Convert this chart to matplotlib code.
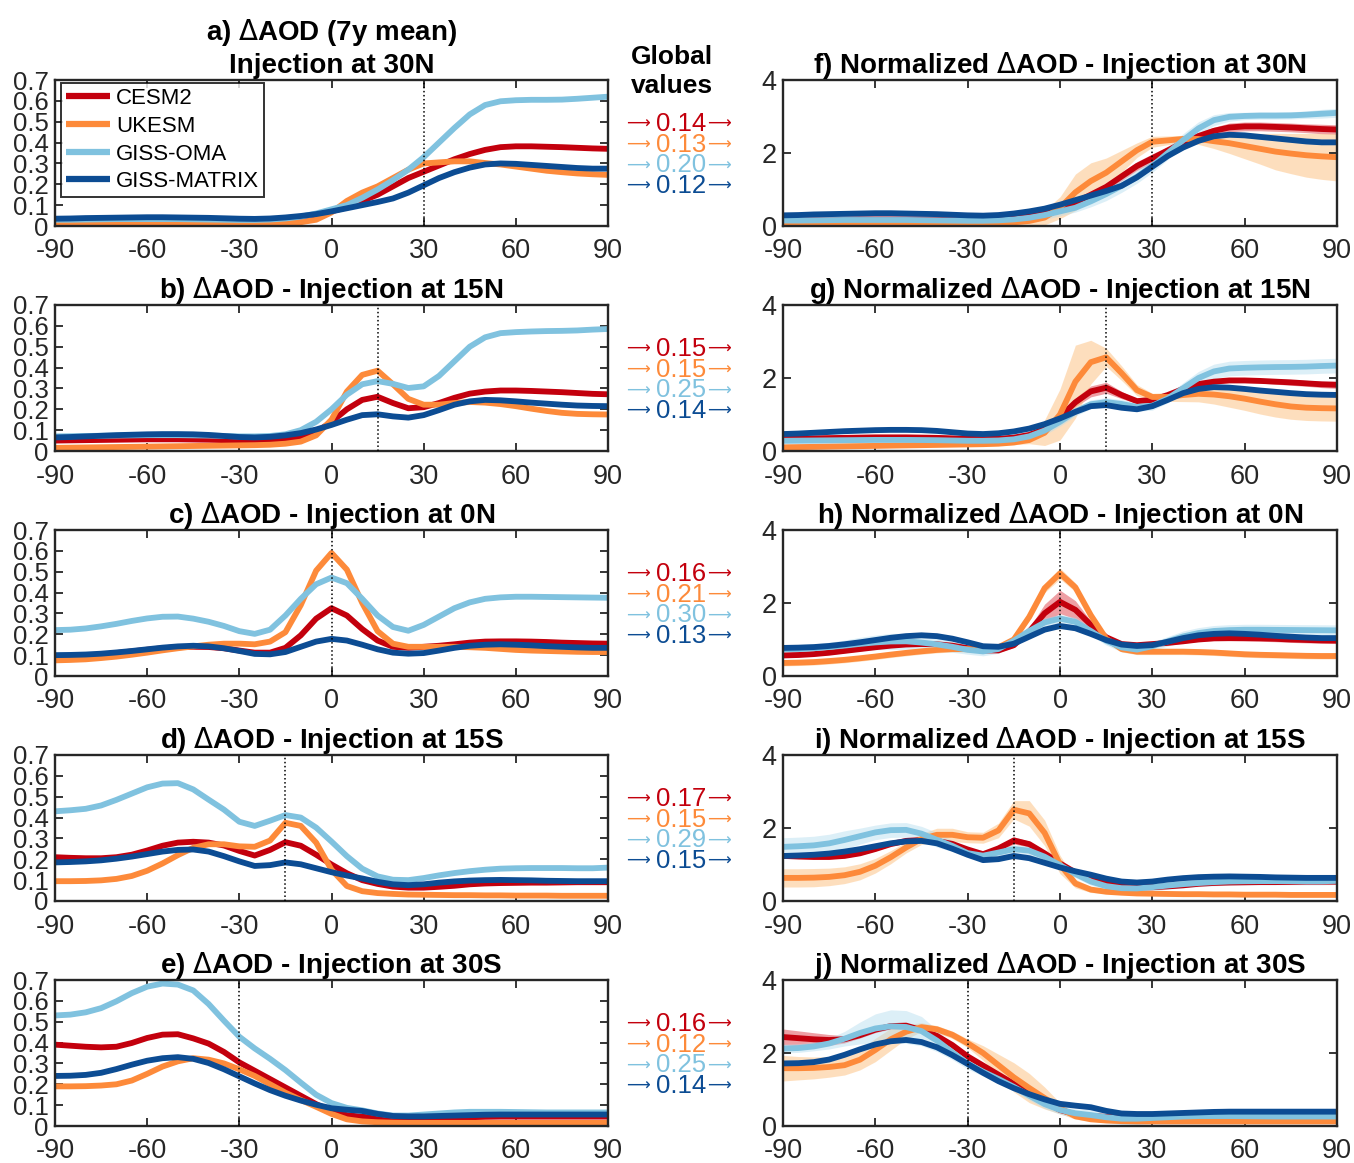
import numpy as np
import matplotlib
matplotlib.use('Agg')
import matplotlib.pyplot as plt

plt.rcParams['font.family'] = ['Liberation Sans', 'DejaVu Sans']
plt.rcParams['axes.unicode_minus'] = False

# latitude grid (5 deg)
lat = np.arange(-90, 91, 5)

models = ['CESM2', 'UKESM', 'GISS-OMA', 'GISS-MATRIX']
colors = ['#c3000d', '#fd8a3a', '#80c2df', '#0c4c93']
band_colors = ['#e0505a', '#fdbf7c', '#b3dcee', '#8fb4dc']
band_alpha = [0.55, 0.5, 0.45, 0.3]

inj_lat = [30, 15, 0, -15, -30]
left_titles = ['a) $\\Delta$AOD (7y mean)\nInjection at 30N',
               'b) $\\Delta$AOD - Injection at 15N',
               'c) $\\Delta$AOD - Injection at 0N',
               'd) $\\Delta$AOD - Injection at 15S',
               'e) $\\Delta$AOD - Injection at 30S']
right_titles = ['f) Normalized $\\Delta$AOD - Injection at 30N',
                'g) Normalized $\\Delta$AOD - Injection at 15N',
                'h) Normalized $\\Delta$AOD - Injection at 0N',
                'i) Normalized $\\Delta$AOD - Injection at 15S',
                'j) Normalized $\\Delta$AOD - Injection at 30S']

xticks = [-90, -60, -30, 0, 30, 60, 90]
yticks_aod = [0, 0.1, 0.2, 0.3, 0.4, 0.5, 0.6, 0.7]
yticks_norm = [0, 2, 4]

# global mean dAOD  (CESM2, UKESM, GISS-OMA, GISS-MATRIX)
global_30n = [0.14, 0.13, 0.20, 0.12]
global_15n = [0.15, 0.15, 0.25, 0.14]
global_0n = [0.16, 0.21, 0.30, 0.13]
global_15s = [0.17, 0.15, 0.29, 0.15]
global_30s = [0.16, 0.12, 0.25, 0.14]

# ---- dAOD, injection at 30N
cesm2_30n = [0.020, 0.020, 0.022, 0.022, 0.024, 0.025, 0.025, 0.025, 0.025,
             0.025, 0.024, 0.022, 0.020, 0.020, 0.022, 0.028, 0.038, 0.052,
             0.070, 0.090, 0.120, 0.150, 0.190, 0.230, 0.260, 0.290, 0.320,
             0.345, 0.365, 0.378, 0.382, 0.382, 0.380, 0.378, 0.375, 0.372, 0.370]
ukesm_30n = [0.010, 0.010, 0.010, 0.011, 0.012, 0.012, 0.012, 0.013, 0.013,
             0.013, 0.013, 0.012, 0.012, 0.012, 0.012, 0.013, 0.018, 0.030,
             0.065, 0.120, 0.160, 0.190, 0.230, 0.270, 0.300, 0.305, 0.310,
             0.310, 0.302, 0.295, 0.285, 0.275, 0.265, 0.258, 0.252, 0.248, 0.245]
oma_30n = [0.030, 0.030, 0.031, 0.032, 0.033, 0.033, 0.033, 0.033, 0.033,
           0.032, 0.031, 0.030, 0.029, 0.029, 0.031, 0.036, 0.045, 0.060,
           0.080, 0.100, 0.135, 0.175, 0.220, 0.270, 0.330, 0.400, 0.470,
           0.535, 0.580, 0.598, 0.603, 0.605, 0.605, 0.606, 0.610, 0.615, 0.620]
matrix_30n = [0.035, 0.036, 0.038, 0.039, 0.040, 0.041, 0.042, 0.042, 0.041,
              0.040, 0.039, 0.037, 0.035, 0.034, 0.036, 0.041, 0.048, 0.057,
              0.070, 0.085, 0.100, 0.115, 0.132, 0.160, 0.195, 0.230, 0.258,
              0.280, 0.295, 0.300, 0.298, 0.293, 0.288, 0.283, 0.278, 0.275, 0.275]

# ---- dAOD, injection at 15N
cesm2_15n = [0.050, 0.051, 0.052, 0.053, 0.054, 0.055, 0.056, 0.056, 0.056,
             0.055, 0.054, 0.052, 0.050, 0.049, 0.050, 0.055, 0.066, 0.090,
             0.140, 0.200, 0.245, 0.260, 0.230, 0.205, 0.210, 0.230, 0.255,
             0.275, 0.285, 0.290, 0.290, 0.288, 0.285, 0.282, 0.278, 0.274, 0.272]
ukesm_15n = [0.015, 0.016, 0.017, 0.018, 0.019, 0.020, 0.021, 0.022, 0.023,
             0.024, 0.025, 0.026, 0.027, 0.028, 0.030, 0.035, 0.045, 0.075,
             0.150, 0.285, 0.365, 0.385, 0.320, 0.250, 0.222, 0.222, 0.230,
             0.235, 0.232, 0.225, 0.215, 0.203, 0.192, 0.183, 0.178, 0.176, 0.175]
oma_15n = [0.070, 0.071, 0.072, 0.073, 0.074, 0.075, 0.076, 0.076, 0.076,
           0.075, 0.074, 0.072, 0.070, 0.070, 0.072, 0.080, 0.100, 0.140,
           0.200, 0.270, 0.320, 0.335, 0.322, 0.302, 0.310, 0.360, 0.430,
           0.500, 0.545, 0.565, 0.570, 0.573, 0.575, 0.576, 0.578, 0.582, 0.585]
matrix_15n = [0.065, 0.067, 0.070, 0.073, 0.076, 0.078, 0.080, 0.081, 0.081,
              0.080, 0.077, 0.072, 0.067, 0.065, 0.068, 0.075, 0.086, 0.103,
              0.125, 0.150, 0.172, 0.176, 0.166, 0.160, 0.172, 0.196, 0.222,
              0.238, 0.245, 0.243, 0.238, 0.232, 0.227, 0.222, 0.218, 0.216, 0.215]

# ---- dAOD, injection at 0N
cesm2_0n = [0.090, 0.092, 0.096, 0.102, 0.110, 0.118, 0.126, 0.133, 0.138,
            0.140, 0.139, 0.133, 0.122, 0.112, 0.112, 0.135, 0.195, 0.275,
            0.325, 0.290, 0.225, 0.170, 0.140, 0.135, 0.140, 0.145, 0.152,
            0.160, 0.165, 0.166, 0.166, 0.165, 0.163, 0.160, 0.158, 0.156, 0.155]
ukesm_0n = [0.075, 0.077, 0.080, 0.086, 0.093, 0.102, 0.112, 0.123, 0.133,
            0.142, 0.150, 0.155, 0.155, 0.152, 0.165, 0.210, 0.340, 0.505,
            0.590, 0.510, 0.350, 0.215, 0.155, 0.140, 0.140, 0.140, 0.140,
            0.138, 0.135, 0.130, 0.125, 0.122, 0.120, 0.118, 0.116, 0.115, 0.115]
oma_0n = [0.220, 0.222, 0.228, 0.238, 0.250, 0.264, 0.276, 0.284, 0.285,
          0.275, 0.260, 0.240, 0.215, 0.202, 0.222, 0.290, 0.370, 0.440,
          0.472, 0.445, 0.370, 0.290, 0.235, 0.217, 0.245, 0.285, 0.325,
          0.353, 0.370, 0.377, 0.380, 0.380, 0.379, 0.378, 0.377, 0.376, 0.375]
matrix_0n = [0.100, 0.101, 0.103, 0.107, 0.113, 0.120, 0.128, 0.136, 0.142,
             0.145, 0.142, 0.133, 0.120, 0.106, 0.104, 0.115, 0.140, 0.165,
             0.178, 0.170, 0.150, 0.128, 0.112, 0.107, 0.110, 0.122, 0.135,
             0.145, 0.150, 0.152, 0.150, 0.147, 0.143, 0.140, 0.137, 0.135, 0.135]

# ---- dAOD, injection at 15S
cesm2_15s = [0.210, 0.207, 0.205, 0.205, 0.210, 0.222, 0.242, 0.265, 0.280,
             0.284, 0.280, 0.266, 0.240, 0.218, 0.245, 0.282, 0.265, 0.222,
             0.175, 0.133, 0.100, 0.082, 0.069, 0.064, 0.064, 0.068, 0.073,
             0.080, 0.084, 0.086, 0.087, 0.088, 0.088, 0.089, 0.090, 0.090, 0.090]
ukesm_15s = [0.095, 0.095, 0.096, 0.099, 0.106, 0.120, 0.145, 0.180, 0.220,
             0.255, 0.272, 0.272, 0.262, 0.260, 0.290, 0.375, 0.360, 0.280,
             0.150, 0.072, 0.047, 0.038, 0.034, 0.031, 0.030, 0.029, 0.028,
             0.028, 0.027, 0.027, 0.026, 0.026, 0.026, 0.025, 0.025, 0.025, 0.025]
oma_15s = [0.430, 0.435, 0.442, 0.458, 0.485, 0.515, 0.545, 0.563, 0.565,
           0.535, 0.486, 0.438, 0.380, 0.360, 0.385, 0.412, 0.400, 0.352,
           0.285, 0.215, 0.155, 0.118, 0.102, 0.100, 0.110, 0.123, 0.134,
           0.143, 0.150, 0.155, 0.157, 0.158, 0.158, 0.158, 0.157, 0.157, 0.160]
matrix_15s = [0.185, 0.187, 0.190, 0.195, 0.203, 0.213, 0.225, 0.237, 0.245,
              0.247, 0.237, 0.215, 0.190, 0.168, 0.172, 0.185, 0.176, 0.157,
              0.138, 0.122, 0.108, 0.092, 0.080, 0.076, 0.080, 0.088, 0.094,
              0.098, 0.100, 0.101, 0.100, 0.099, 0.097, 0.096, 0.095, 0.095, 0.095]

# ---- dAOD, injection at 30S
cesm2_30s = [0.390, 0.385, 0.380, 0.377, 0.380, 0.398, 0.422, 0.438, 0.440,
             0.420, 0.395, 0.355, 0.305, 0.265, 0.225, 0.185, 0.145, 0.105,
             0.070, 0.052, 0.044, 0.040, 0.037, 0.036, 0.036, 0.038, 0.040,
             0.042, 0.044, 0.045, 0.045, 0.045, 0.045, 0.045, 0.045, 0.045, 0.045]
ukesm_30s = [0.190, 0.190, 0.191, 0.194, 0.200, 0.218, 0.250, 0.285, 0.310,
             0.325, 0.318, 0.300, 0.272, 0.240, 0.200, 0.160, 0.125, 0.092,
             0.058, 0.032, 0.022, 0.018, 0.016, 0.015, 0.015, 0.015, 0.015,
             0.015, 0.015, 0.015, 0.015, 0.015, 0.015, 0.015, 0.015, 0.015, 0.015]
oma_30s = [0.530, 0.534, 0.545, 0.565, 0.598, 0.637, 0.668, 0.683, 0.678,
           0.650, 0.585, 0.505, 0.428, 0.372, 0.322, 0.268, 0.208, 0.150,
           0.110, 0.087, 0.075, 0.060, 0.050, 0.050, 0.055, 0.060, 0.065,
           0.068, 0.068, 0.068, 0.067, 0.066, 0.065, 0.065, 0.065, 0.065, 0.065]
matrix_30s = [0.240, 0.241, 0.245, 0.255, 0.273, 0.294, 0.313, 0.325, 0.330,
              0.322, 0.302, 0.272, 0.238, 0.204, 0.172, 0.145, 0.122, 0.102,
              0.085, 0.078, 0.072, 0.058, 0.048, 0.046, 0.046, 0.048, 0.050,
              0.052, 0.054, 0.055, 0.055, 0.055, 0.055, 0.055, 0.055, 0.055, 0.055]

# ---- ensemble spread (half width) of normalized dAOD
sp_cesm2_30n = [0.08, 0.08, 0.08, 0.08, 0.08, 0.08, 0.08, 0.08, 0.08,
                0.08, 0.08, 0.08, 0.08, 0.08, 0.08, 0.08, 0.08, 0.08,
                0.08, 0.08, 0.08, 0.10, 0.12, 0.12, 0.12, 0.10, 0.10,
                0.10, 0.10, 0.12, 0.12, 0.12, 0.12, 0.12, 0.12, 0.13, 0.13]
sp_ukesm_30n = [0.06, 0.06, 0.06, 0.06, 0.06, 0.06, 0.06, 0.06, 0.06,
                0.06, 0.06, 0.06, 0.06, 0.06, 0.06, 0.08, 0.12, 0.20,
                0.30, 0.50, 0.50, 0.40, 0.30, 0.20, 0.15, 0.12, 0.10,
                0.15, 0.20, 0.28, 0.35, 0.42, 0.50, 0.55, 0.60, 0.63, 0.65]
sp_oma_30n = [0.15, 0.15, 0.15, 0.15, 0.15, 0.15, 0.15, 0.15, 0.15,
              0.14, 0.13, 0.12, 0.12, 0.12, 0.12, 0.12, 0.12, 0.12,
              0.12, 0.12, 0.15, 0.18, 0.18, 0.18, 0.18, 0.18, 0.18,
              0.18, 0.15, 0.12, 0.10, 0.10, 0.10, 0.10, 0.10, 0.12, 0.12]
sp_matrix_30n = [0.05, 0.05, 0.05, 0.05, 0.05, 0.05, 0.05, 0.05, 0.05,
                 0.05, 0.05, 0.05, 0.05, 0.05, 0.05, 0.05, 0.05, 0.05,
                 0.05, 0.05, 0.05, 0.06, 0.06, 0.06, 0.06, 0.06, 0.06,
                 0.06, 0.06, 0.06, 0.06, 0.06, 0.06, 0.06, 0.06, 0.06, 0.06]

sp_cesm2_15n = [0.05, 0.05, 0.05, 0.05, 0.05, 0.05, 0.05, 0.05, 0.05,
                0.05, 0.05, 0.05, 0.05, 0.05, 0.05, 0.05, 0.05, 0.06,
                0.08, 0.12, 0.15, 0.15, 0.10, 0.06, 0.06, 0.06, 0.06,
                0.06, 0.06, 0.06, 0.06, 0.06, 0.07, 0.08, 0.08, 0.09, 0.10]
sp_ukesm_15n = [0.05, 0.05, 0.05, 0.05, 0.05, 0.05, 0.05, 0.05, 0.05,
                0.05, 0.05, 0.05, 0.05, 0.05, 0.05, 0.06, 0.10, 0.35,
                0.70, 1.00, 0.60, 0.25, 0.20, 0.15, 0.10, 0.12, 0.18,
                0.22, 0.26, 0.30, 0.32, 0.34, 0.35, 0.35, 0.35, 0.35, 0.35]
sp_oma_15n = [0.15, 0.15, 0.15, 0.15, 0.15, 0.15, 0.15, 0.15, 0.15,
              0.15, 0.14, 0.13, 0.12, 0.12, 0.12, 0.12, 0.12, 0.12,
              0.12, 0.12, 0.12, 0.12, 0.12, 0.12, 0.12, 0.12, 0.15,
              0.18, 0.20, 0.20, 0.20, 0.20, 0.20, 0.20, 0.20, 0.20, 0.20]
sp_matrix_15n = [0.05, 0.05, 0.05, 0.05, 0.05, 0.05, 0.05, 0.05, 0.05,
                 0.05, 0.05, 0.05, 0.05, 0.05, 0.05, 0.05, 0.05, 0.05,
                 0.05, 0.05, 0.05, 0.05, 0.05, 0.05, 0.05, 0.05, 0.05,
                 0.05, 0.05, 0.05, 0.05, 0.05, 0.05, 0.05, 0.05, 0.05, 0.05]

sp_cesm2_0n = [0.05, 0.05, 0.05, 0.05, 0.05, 0.05, 0.05, 0.05, 0.05,
               0.05, 0.05, 0.05, 0.05, 0.05, 0.05, 0.06, 0.10, 0.25,
               0.32, 0.25, 0.10, 0.06, 0.05, 0.05, 0.05, 0.05, 0.05,
               0.05, 0.06, 0.07, 0.08, 0.08, 0.08, 0.08, 0.08, 0.08, 0.08]
sp_ukesm_0n = [0.08, 0.08, 0.08, 0.08, 0.08, 0.08, 0.08, 0.08, 0.08,
               0.08, 0.08, 0.08, 0.08, 0.08, 0.08, 0.08, 0.08, 0.12,
               0.15, 0.12, 0.08, 0.08, 0.08, 0.08, 0.08, 0.08, 0.08,
               0.08, 0.08, 0.08, 0.08, 0.08, 0.08, 0.08, 0.08, 0.08, 0.08]
sp_oma_0n = [0.12, 0.12, 0.12, 0.13, 0.15, 0.18, 0.20, 0.22, 0.22,
             0.20, 0.18, 0.15, 0.12, 0.12, 0.12, 0.12, 0.12, 0.12,
             0.12, 0.12, 0.12, 0.12, 0.12, 0.12, 0.12, 0.13, 0.15,
             0.15, 0.15, 0.15, 0.15, 0.15, 0.15, 0.15, 0.15, 0.15, 0.15]
sp_matrix_0n = [0.05, 0.05, 0.05, 0.05, 0.05, 0.05, 0.05, 0.05, 0.05,
                0.05, 0.05, 0.05, 0.05, 0.05, 0.05, 0.05, 0.05, 0.05,
                0.05, 0.05, 0.05, 0.05, 0.05, 0.05, 0.05, 0.05, 0.05,
                0.05, 0.05, 0.05, 0.05, 0.05, 0.05, 0.05, 0.05, 0.05, 0.05]

sp_cesm2_15s = [0.05, 0.05, 0.05, 0.05, 0.05, 0.05, 0.05, 0.05, 0.05,
                0.05, 0.05, 0.05, 0.05, 0.06, 0.08, 0.10, 0.08, 0.06,
                0.05, 0.05, 0.05, 0.05, 0.05, 0.05, 0.05, 0.05, 0.05,
                0.05, 0.05, 0.05, 0.05, 0.05, 0.05, 0.05, 0.05, 0.05, 0.05]
sp_ukesm_15s = [0.25, 0.25, 0.25, 0.24, 0.23, 0.22, 0.20, 0.18, 0.15,
                0.15, 0.18, 0.18, 0.15, 0.15, 0.20, 0.25, 0.35, 0.35,
                0.25, 0.12, 0.08, 0.05, 0.05, 0.05, 0.05, 0.05, 0.05,
                0.05, 0.05, 0.05, 0.05, 0.05, 0.05, 0.05, 0.05, 0.05, 0.05]
sp_oma_15s = [0.25, 0.25, 0.25, 0.25, 0.25, 0.22, 0.20, 0.20, 0.20,
              0.20, 0.20, 0.15, 0.12, 0.12, 0.12, 0.12, 0.12, 0.12,
              0.10, 0.10, 0.10, 0.10, 0.10, 0.10, 0.10, 0.10, 0.10,
              0.10, 0.10, 0.10, 0.10, 0.10, 0.10, 0.10, 0.10, 0.10, 0.10]
sp_matrix_15s = [0.05, 0.05, 0.05, 0.05, 0.05, 0.05, 0.05, 0.05, 0.05,
                 0.05, 0.05, 0.05, 0.05, 0.05, 0.05, 0.05, 0.05, 0.05,
                 0.05, 0.05, 0.05, 0.05, 0.05, 0.05, 0.05, 0.05, 0.05,
                 0.05, 0.05, 0.05, 0.05, 0.05, 0.05, 0.05, 0.05, 0.05, 0.05]

sp_cesm2_30s = [0.22, 0.20, 0.18, 0.15, 0.10, 0.08, 0.08, 0.08, 0.08,
                0.06, 0.06, 0.06, 0.06, 0.06, 0.06, 0.06, 0.06, 0.06,
                0.06, 0.06, 0.06, 0.06, 0.06, 0.06, 0.06, 0.06, 0.06,
                0.06, 0.06, 0.06, 0.06, 0.06, 0.06, 0.06, 0.06, 0.06, 0.06]
sp_ukesm_30s = [0.35, 0.32, 0.30, 0.28, 0.27, 0.28, 0.32, 0.30, 0.20,
                0.12, 0.10, 0.10, 0.12, 0.20, 0.30, 0.40, 0.40, 0.30,
                0.15, 0.08, 0.05, 0.05, 0.05, 0.05, 0.05, 0.05, 0.05,
                0.05, 0.05, 0.05, 0.05, 0.05, 0.05, 0.05, 0.05, 0.05, 0.05]
sp_oma_30s = [0.12, 0.12, 0.12, 0.15, 0.20, 0.30, 0.40, 0.45, 0.45,
              0.40, 0.30, 0.20, 0.15, 0.12, 0.12, 0.12, 0.12, 0.12,
              0.12, 0.12, 0.15, 0.15, 0.15, 0.15, 0.15, 0.15, 0.15,
              0.15, 0.15, 0.15, 0.15, 0.15, 0.15, 0.15, 0.15, 0.15, 0.15]
sp_matrix_30s = [0.05, 0.05, 0.05, 0.05, 0.05, 0.05, 0.05, 0.05, 0.05,
                 0.05, 0.05, 0.05, 0.05, 0.05, 0.05, 0.05, 0.05, 0.05,
                 0.05, 0.05, 0.05, 0.05, 0.05, 0.05, 0.05, 0.05, 0.05,
                 0.05, 0.05, 0.05, 0.05, 0.05, 0.05, 0.05, 0.05, 0.05, 0.05]

aod_rows = [[cesm2_30n, ukesm_30n, oma_30n, matrix_30n],
            [cesm2_15n, ukesm_15n, oma_15n, matrix_15n],
            [cesm2_0n, ukesm_0n, oma_0n, matrix_0n],
            [cesm2_15s, ukesm_15s, oma_15s, matrix_15s],
            [cesm2_30s, ukesm_30s, oma_30s, matrix_30s]]
spread_rows = [[sp_cesm2_30n, sp_ukesm_30n, sp_oma_30n, sp_matrix_30n],
               [sp_cesm2_15n, sp_ukesm_15n, sp_oma_15n, sp_matrix_15n],
               [sp_cesm2_0n, sp_ukesm_0n, sp_oma_0n, sp_matrix_0n],
               [sp_cesm2_15s, sp_ukesm_15s, sp_oma_15s, sp_matrix_15s],
               [sp_cesm2_30s, sp_ukesm_30s, sp_oma_30s, sp_matrix_30s]]
global_rows = [global_30n, global_15n, global_0n, global_15s, global_30s]

W, H = 1354, 1163
fig = plt.figure(figsize=(W / 100, H / 100), dpi=100)

axcol = '#262626'


def style_axes(ax, yticks, ylim, ysize):
    ax.set_xlim(-90, 90)
    ax.set_ylim(*ylim)
    ax.set_xticks(xticks)
    ax.set_xticklabels([str(t) for t in xticks])
    ax.set_yticks(yticks)
    ax.set_yticklabels(['%g' % t for t in yticks])
    ax.tick_params(direction='in', length=6, width=1.3, top=True, right=True,
                   colors=axcol, labelcolor=axcol)
    ax.tick_params(axis='x', pad=9, labelsize=19.5)
    ax.tick_params(axis='y', pad=4.5, labelsize=ysize)
    for s in ax.spines.values():
        s.set_linewidth(1.7)
        s.set_color(axcol)


ax_h = 146 / H
for k in range(5):
    bottom = 1 - (226 + 225 * k) / H
    axl = fig.add_axes([55 / W, bottom, 553 / W, ax_h])
    axr = fig.add_axes([783 / W, bottom, 554 / W, ax_h])

    # left: dAOD
    for m in range(4):
        axl.plot(lat, aod_rows[k][m], color=colors[m], lw=4.2,
                 solid_capstyle='butt', solid_joinstyle='round',
                 label=models[m])
    axl.axvline(inj_lat[k], color='k', ls=':', lw=1.1, zorder=5)
    style_axes(axl, yticks_aod, (0, 0.7), 18.5)
    axl.set_title(left_titles[k], fontsize=20, fontweight='bold', pad=5,
                  linespacing=1.25)

    # right: normalized dAOD with ensemble spread
    for m in range(4):
        norm = np.array(aod_rows[k][m]) / global_rows[k][m]
        sp = np.array(spread_rows[k][m])
        axr.fill_between(lat, norm - sp, norm + sp, color=band_colors[m],
                         alpha=band_alpha[m], lw=0)
    for m in range(4):
        norm = np.array(aod_rows[k][m]) / global_rows[k][m]
        axr.plot(lat, norm, color=colors[m], lw=4.2, solid_capstyle='butt',
                 solid_joinstyle='round')
    axr.axvline(inj_lat[k], color='k', ls=':', lw=1.1, zorder=5)
    style_axes(axr, yticks_norm, (0, 4), 19.5)
    axr.set_title(right_titles[k], fontsize=20, fontweight='bold', pad=5)

    if k == 0:
        leg = axl.legend(loc='upper left', bbox_to_anchor=(0.005, 1.0),
                         fontsize=16, frameon=True, fancybox=False,
                         edgecolor='k', handlelength=2.0, handletextpad=0.25,
                         labelspacing=0.3, borderpad=0.22,
                         borderaxespad=0.15)
        leg.get_frame().set_linewidth(1.4)
        for ln in leg.get_lines():
            ln.set_linewidth(4.5)

    # global values column
    for m in range(4):
        ypx = 124 + 225 * k + 20.7 * m
        yf = 1 - ypx / H
        fig.text(638 / W, yf, '\u27f6', color=colors[m], fontsize=12,
                 family='DejaVu Sans', ha='center', va='center')
        fig.text(681 / W, yf, '%.2f' % global_rows[k][m], color=colors[m],
                 fontsize=18.5, ha='center', va='center')
        fig.text(719 / W, yf, '\u27f6', color=colors[m], fontsize=12,
                 family='DejaVu Sans', ha='center', va='center')

fig.text(672 / W, 1 - 57 / H, 'Global', fontsize=19, fontweight='bold',
         ha='center', va='center')
fig.text(672 / W, 1 - 86 / H, 'values', fontsize=19, fontweight='bold',
         ha='center', va='center')

fig.savefig('out.png', dpi=100)
